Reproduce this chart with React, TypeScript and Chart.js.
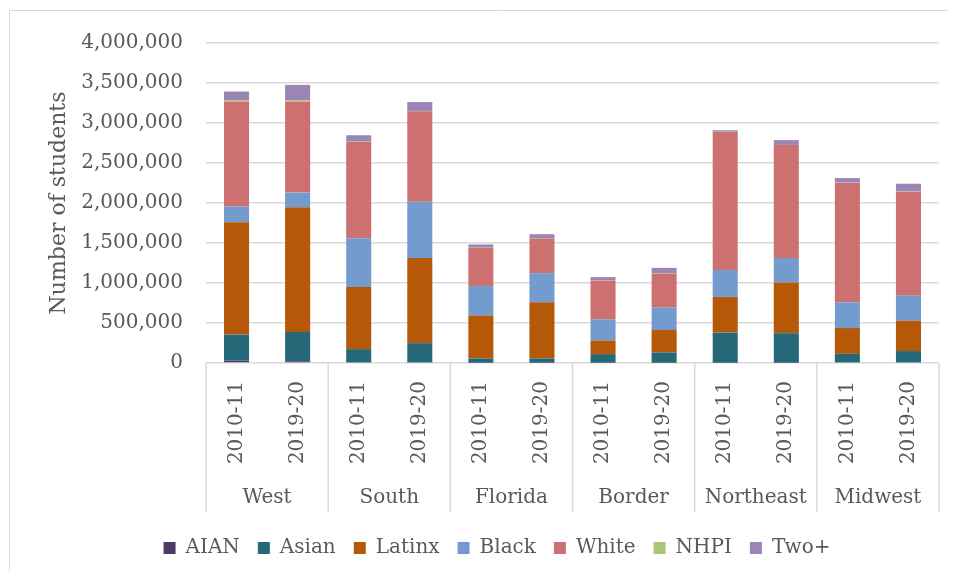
import { useEffect, useRef } from 'react';
import { Chart, registerables } from 'chart.js';
Chart.register(...registerables);

const FONT = "'DejaVu Serif', serif";
const TEXT = '#595959';
const GRID = '#d9d9d9';

const years = ['2010-11', '2019-20', '2010-11', '2019-20', '2010-11', '2019-20', '2010-11', '2019-20', '2010-11', '2019-20', '2010-11', '2019-20'];
const regions = ['West', 'South', 'Florida', 'Border', 'Northeast', 'Midwest'];
const yTicks = [0, 500000, 1000000, 1500000, 2000000, 2500000, 3000000, 3500000, 4000000];

const aian = [30000, 22000, 8000, 8000, 5000, 5000, 5000, 5000, 5000, 5000, 8000, 8000];
const asian = [325000, 366000, 165000, 240000, 53000, 53000, 106000, 127000, 375000, 367000, 107000, 141000];
const latinx = [1404000, 1560000, 777000, 1065000, 536000, 701000, 170000, 280000, 446000, 635000, 322000, 380000];
const black = [198000, 182000, 610000, 702000, 368000, 364000, 264000, 282000, 338000, 306000, 322000, 313000];
const white = [1312000, 1139000, 1202000, 1131000, 478000, 434000, 487000, 424000, 1725000, 1411000, 1495000, 1297000];
const nhpi = [17000, 17000, 5000, 5000, 3000, 3000, 2000, 3000, 2000, 2000, 2000, 3000];
const twoPlus = [107000, 190000, 80000, 110000, 39000, 50000, 40000, 68000, 19000, 60000, 56000, 99000];

const seriesNames = ['AIAN', 'Asian', 'Latinx', 'Black', 'White', 'NHPI', 'Two+'];
const seriesColors = ['#4f3a66', '#256979', '#b55807', '#739bcd', '#cd7170', '#aac676', '#9b85b5'];
const seriesData = [aian, asian, latinx, black, white, nhpi, twoPlus];

const framePlugin = {
  id: 'frame',
  afterDraw(chart: any) {
    const ctx = chart.ctx;
    const x = chart.scales.x;
    const x2 = chart.scales.x2;
    ctx.save();
    ctx.strokeStyle = GRID;
    ctx.lineWidth = 1;
    // outer chart border (top and left visible)
    ctx.beginPath();
    ctx.moveTo(1.5, chart.height);
    ctx.lineTo(1.5, 2.5);
    ctx.lineTo(chart.width, 2.5);
    ctx.stroke();
    // group separators
    const half = (x.getPixelForValue(1) - x.getPixelForValue(0)) / 2;
    ctx.lineWidth = 1.5;
    const top = chart.chartArea.bottom;
    const bottom = x2.bottom - 8;
    for (let g = 0; g <= regions.length; g++) {
      const px = g < regions.length ? x.getPixelForValue(g * 2) - half : x.getPixelForValue(g * 2 - 1) + half;
      ctx.beginPath();
      ctx.moveTo(px, top);
      ctx.lineTo(px, bottom);
      ctx.stroke();
    }
    ctx.restore();
  },
};

export default function App() {
  const ref = useRef<HTMLCanvasElement>(null);
  useEffect(() => {
    Chart.defaults.font.family = FONT;
    const chart = new Chart(ref.current!, {
      type: 'bar',
      data: {
        labels: years,
        datasets: seriesNames.map((name, i) => ({
          label: name,
          data: seriesData[i],
          backgroundColor: seriesColors[i],
          borderWidth: 0,
          barPercentage: 0.41,
          categoryPercentage: 1,
        })),
      },
      options: {
        animation: false,
        responsive: false,
        devicePixelRatio: 1,
        layout: { padding: { left: 30, right: 30, top: 32, bottom: 3 } },
        plugins: {
          legend: {
            position: 'bottom',
            labels: {
              boxWidth: 12,
              boxHeight: 12,
              padding: 18,
              color: TEXT,
              font: { family: FONT, size: 20 },
            },
          },
          tooltip: { enabled: false },
        },
        scales: {
          x: {
            stacked: true,
            grid: { display: false, drawTicks: false },
            border: { display: false },
            ticks: {
              color: TEXT,
              font: { family: FONT, size: 20 },
              minRotation: 90,
              maxRotation: 90,
              autoSkip: false,
              padding: 18,
            },
            afterFit: (s: any) => { s.height = 113; },
          },
          x2: {
            type: 'category',
            position: 'bottom',
            labels: regions,
            offset: true,
            grid: { display: false, drawTicks: false },
            border: { display: false },
            ticks: { color: TEXT, font: { family: FONT, size: 20 }, padding: 10, autoSkip: false, maxRotation: 0 },
            afterFit: (s: any) => { s.height = 44; },
          },
          y: {
            stacked: true,
            min: 0,
            max: 4000000,
            afterBuildTicks: (s: any) => { s.ticks = yTicks.map((v) => ({ value: v })); },
            grid: { color: GRID, lineWidth: 1.5, drawTicks: false },
            border: { display: false },
            ticks: {
              color: TEXT,
              font: { family: FONT, size: 20 },
              padding: 23,
              callback: (v: any) => Number(v).toLocaleString('en-US'),
            },
            title: {
              display: true,
              text: 'Number of students',
              color: TEXT,
              font: { family: FONT, size: 22 },
              padding: { top: 8, bottom: 0 },
            },
            afterFit: (s: any) => { s.width = 168; },
          },
          yR: {
            type: 'linear',
            position: 'right',
            display: true,
            grid: { display: false, drawTicks: false },
            border: { display: false },
            ticks: { display: false },
            afterFit: (s: any) => { s.width = 17; },
          },
        },
      },
      plugins: [framePlugin],
    } as any);
    return () => chart.destroy();
  }, []);
  return (
    <div style={{ width: 948, height: 563, overflow: 'hidden', position: 'relative' }}>
      <canvas ref={ref} width={978} height={563} style={{ position: 'absolute', left: 0, top: 0 }} />
    </div>
  );
}
